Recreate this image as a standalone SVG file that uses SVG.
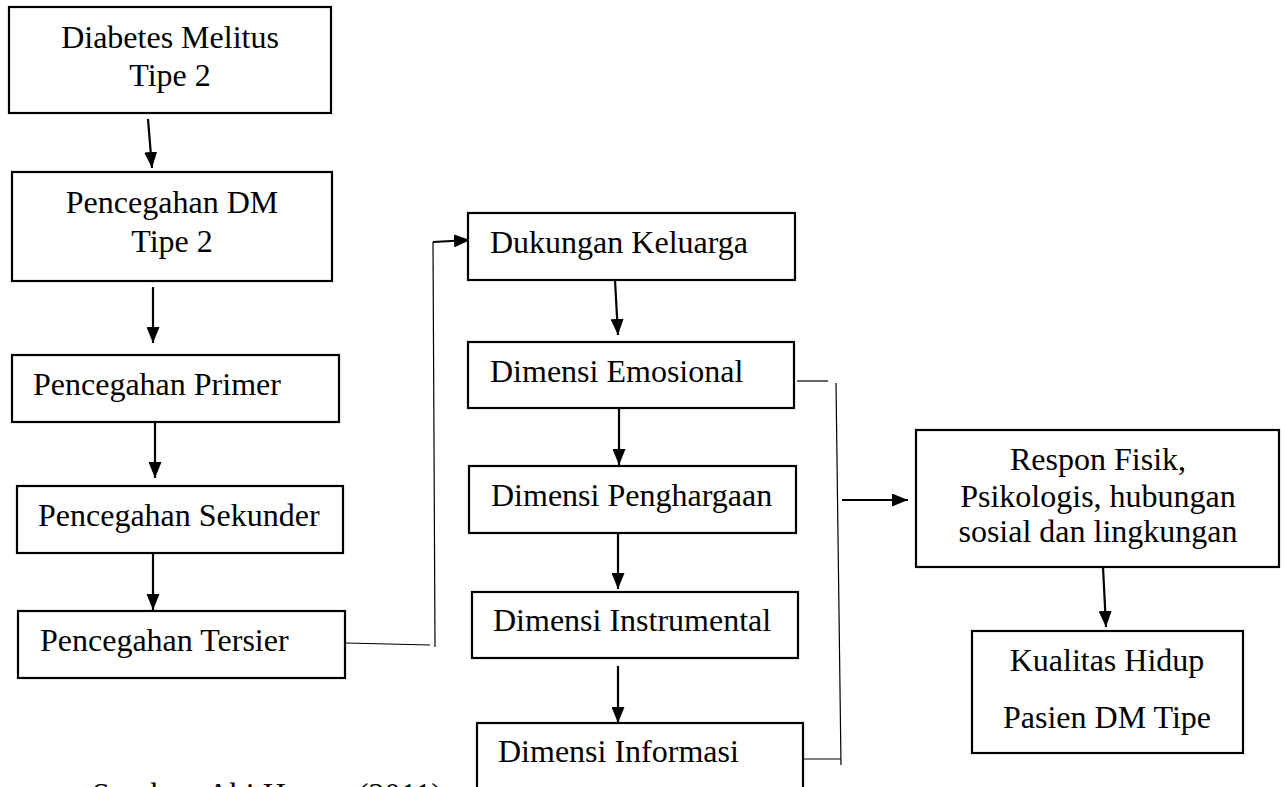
<svg xmlns="http://www.w3.org/2000/svg" width="1285" height="787" viewBox="0 0 1285 787">
<style>
.box{fill:#fff;stroke:#000;stroke-width:2.2}
.t{font-family:"Liberation Serif","Times New Roman",serif;font-size:32px;fill:#000}
.c{text-anchor:middle}
.arr{fill:none;stroke:#000;stroke-width:2.2;marker-end:url(#ah)}
.thin{fill:none;stroke:#000;stroke-width:1.2}
</style>
<defs>
<marker id="ah" markerUnits="userSpaceOnUse" markerWidth="17" markerHeight="13" refX="16" refY="6.5" orient="auto">
<path d="M0,0 L16,6.5 L0,13 z" fill="#000"/>
</marker>
</defs>
<rect width="1285" height="787" fill="#fff"/>
<g id="connectors">
<line class="arr" x1="148" y1="119" x2="152" y2="168"/>
<line class="arr" x1="153" y1="287" x2="153" y2="343"/>
<line class="arr" x1="155" y1="422" x2="155" y2="478"/>
<line class="arr" x1="153" y1="553" x2="153" y2="610"/>
<line class="thin" x1="346" y1="643" x2="430" y2="645"/>
<line class="thin" x1="435" y1="647" x2="433" y2="242"/>
<line class="arr" x1="433" y1="242" x2="470" y2="240"/>
<line class="arr" x1="615" y1="280" x2="618" y2="335"/>
<line class="arr" x1="619" y1="408" x2="619" y2="465"/>
<line class="arr" x1="618" y1="533" x2="618" y2="589"/>
<line class="arr" x1="618" y1="666" x2="618" y2="723"/>
<line class="thin" x1="797" y1="381" x2="828" y2="381"/>
<line class="thin" x1="836" y1="383" x2="841" y2="765"/>
<line class="thin" x1="803" y1="759" x2="841" y2="759"/>
<line class="arr" x1="842" y1="500" x2="908" y2="500"/>
<line class="arr" x1="1103" y1="567" x2="1106" y2="627"/>
</g>
<g id="n-dm2">
<rect class="box" x="9" y="7" width="322" height="106"/>
<text class="t c" x="170" y="48">Diabetes Melitus</text>
<text class="t c" x="170" y="86">Tipe 2</text>
</g>
<g id="n-pencegahan-dm">
<rect class="box" x="12" y="172" width="320" height="109"/>
<text class="t c" x="172" y="213">Pencegahan DM</text>
<text class="t c" x="172" y="252">Tipe 2</text>
</g>
<g id="n-primer">
<rect class="box" x="12" y="355" width="327" height="67"/>
<text class="t" x="33" y="395">Pencegahan Primer</text>
</g>
<g id="n-sekunder">
<rect class="box" x="17" y="486" width="326" height="67"/>
<text class="t" x="38" y="526">Pencegahan Sekunder</text>
</g>
<g id="n-tersier">
<rect class="box" x="18" y="611" width="327" height="67"/>
<text class="t" x="40" y="651">Pencegahan Tersier</text>
</g>
<g id="n-dukungan">
<rect class="box" x="468" y="213" width="327" height="67"/>
<text class="t" x="490" y="253">Dukungan Keluarga</text>
</g>
<g id="n-emosional">
<rect class="box" x="468" y="342" width="326" height="66"/>
<text class="t" x="490" y="382">Dimensi Emosional</text>
</g>
<g id="n-penghargaan">
<rect class="box" x="469" y="466" width="327" height="67"/>
<text class="t" x="491" y="506">Dimensi Penghargaan</text>
</g>
<g id="n-instrumental">
<rect class="box" x="472" y="592" width="326" height="66"/>
<text class="t" x="493" y="631">Dimensi Instrumental</text>
</g>
<g id="n-informasi">
<rect class="box" x="477" y="723" width="326" height="90"/>
<text class="t" x="498" y="762">Dimensi Informasi</text>
</g>
<g id="n-respon">
<rect class="box" x="916" y="430" width="363" height="137"/>
<text class="t c" x="1098" y="470">Respon Fisik,</text>
<text class="t c" x="1098" y="507">Psikologis, hubungan</text>
<text class="t c" x="1098" y="542">sosial dan lingkungan</text>
</g>
<g id="n-kualitas">
<rect class="box" x="972" y="631" width="271" height="122"/>
<text class="t c" x="1107" y="671">Kualitas Hidup</text>
<text class="t c" x="1107" y="728">Pasien DM Tipe</text>
</g>
<text class="t" x="92" y="805">Sumber: Abi Hamm (2011)</text>
</svg>
